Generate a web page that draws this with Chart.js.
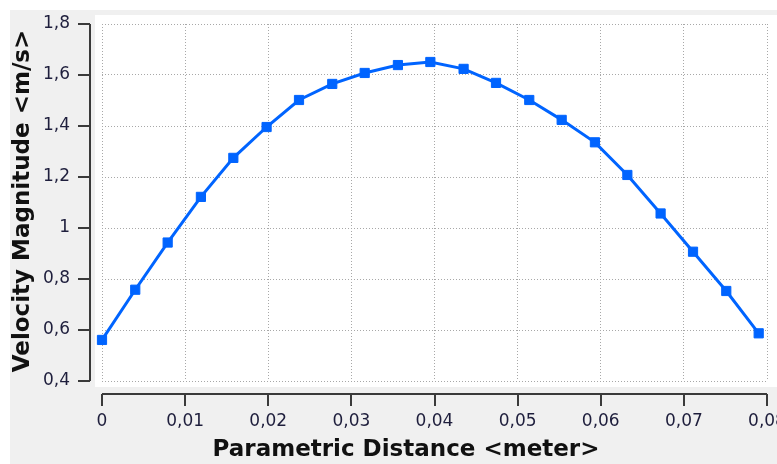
<!DOCTYPE html>
<html>
<head>
<meta charset="utf-8">
<script src="https://cdn.jsdelivr.net/npm/chart.js@4"></script>
<style>
  html, body { margin: 0; padding: 0; background: #fff; }
  canvas { display: block; }
</style>
</head>
<body>
<canvas id="velChart" width="777" height="464"></canvas>
<script>
// values
const distance = [0, 0.004, 0.0079, 0.0119, 0.0158, 0.0198, 0.0237, 0.0277, 0.0316, 0.0356, 0.0395,
                  0.0435, 0.0474, 0.0514, 0.0553, 0.0593, 0.0632, 0.0672, 0.0711, 0.0751, 0.079];
const velocity = [0.561, 0.758, 0.943, 1.122, 1.275, 1.396, 1.502, 1.565, 1.608, 1.639, 1.651,
                  1.624, 1.569, 1.502, 1.424, 1.336, 1.208, 1.057, 0.907, 0.753, 0.587];

const xTicks = [0, 0.01, 0.02, 0.03, 0.04, 0.05, 0.06, 0.07, 0.08];
const xTickLabels = ['0', '0,01', '0,02', '0,03', '0,04', '0,05', '0,06', '0,07', '0,08'];
const yTicks = [0.4, 0.6, 0.8, 1, 1.2, 1.4, 1.6, 1.8];
const yTickLabels = ['0,4', '0,6', '0,8', '1', '1,2', '1,4', '1,6', '1,8'];

const xTitle = 'Parametric Distance <meter>';
const yTitle = 'Velocity Magnitude <m/s>';

const lineColor = 'rgb(0, 100, 255)';
const axisColor = '#3a3a3a';
const labelColor = '#1e1e3c';

// backgrounds + hand drawn axes (axis lines sit apart from the plot box)
const frame = {
    id: 'frame',
    beforeDraw(chart) {
        const ctx = chart.ctx;
        const a = chart.chartArea;
        ctx.save();
        ctx.fillStyle = '#ffffff';
        ctx.fillRect(0, 0, chart.width, chart.height);
        ctx.fillStyle = '#f0f0f0';
        ctx.fillRect(10, 10, chart.width - 10, chart.height - 10);
        ctx.fillStyle = '#ffffff';
        ctx.fillRect(a.left - 7, a.top - 9, chart.width - (a.left - 7), (a.bottom + 6) - (a.top - 9));
        ctx.restore();
    },
    afterDraw(chart) {
        const ctx = chart.ctx;
        const a = chart.chartArea;
        const xs = chart.scales.x;
        const ys = chart.scales.y;
        const axX = a.left - 12;
        const axY = a.bottom + 13;

        ctx.save();
        ctx.strokeStyle = axisColor;
        ctx.lineWidth = 2;
        ctx.beginPath();
        ctx.moveTo(axX, ys.getPixelForValue(yTicks[0]));
        ctx.lineTo(axX, ys.getPixelForValue(yTicks[yTicks.length - 1]));
        yTicks.forEach(v => {
            const py = Math.round(ys.getPixelForValue(v));
            ctx.moveTo(axX - 12, py);
            ctx.lineTo(axX, py);
        });
        ctx.moveTo(xs.getPixelForValue(xTicks[0]), axY);
        ctx.lineTo(xs.getPixelForValue(xTicks[xTicks.length - 1]), axY);
        xTicks.forEach(v => {
            const px = Math.round(xs.getPixelForValue(v));
            ctx.moveTo(px, axY);
            ctx.lineTo(px, axY + 12);
        });
        ctx.stroke();

        ctx.fillStyle = labelColor;
        ctx.font = '17px "DejaVu Sans"';
        ctx.textAlign = 'right';
        ctx.textBaseline = 'middle';
        yTicks.forEach((v, i) => {
            ctx.fillText(yTickLabels[i], axX - 20, ys.getPixelForValue(v));
        });
        ctx.textAlign = 'center';
        xTicks.forEach((v, i) => {
            ctx.fillText(xTickLabels[i], xs.getPixelForValue(v), axY + 28);
        });

        ctx.fillStyle = '#111';
        ctx.font = 'bold 23px "DejaVu Sans"';
        ctx.fillText(xTitle, 406, 450);
        ctx.translate(23, 201);
        ctx.rotate(-Math.PI / 2);
        ctx.fillText(yTitle, 0, 0);
        ctx.restore();
    }
};

new Chart(document.getElementById('velChart'), {
    type: 'line',
    data: {
        datasets: [{
            data: distance.map((d, i) => ({ x: d, y: velocity[i] })),
            borderColor: lineColor,
            backgroundColor: lineColor,
            borderWidth: 3,
            pointStyle: 'rect',
            pointRadius: 6.5,
            pointBorderWidth: 1,
            pointBorderColor: lineColor,
            pointBackgroundColor: lineColor,
            tension: 0,
            clip: false
        }]
    },
    options: {
        responsive: false,
        animation: false,
        devicePixelRatio: 1,
        layout: { padding: { left: 102, top: 24, right: 10, bottom: 83 } },
        plugins: { legend: { display: false }, tooltip: { enabled: false } },
        scales: {
            x: {
                type: 'linear',
                min: 0,
                max: 0.08,
                ticks: { display: false, stepSize: 0.01 },
                border: { display: false, dash: [1, 2] },
                grid: { color: '#a8a8a8', lineWidth: 1, drawTicks: false }
            },
            y: {
                min: 0.4,
                max: 1.8,
                ticks: { display: false, stepSize: 0.2 },
                border: { display: false, dash: [1, 2] },
                grid: { color: '#a8a8a8', lineWidth: 1, drawTicks: false }
            }
        }
    },
    plugins: [frame]
});
</script>
</body>
</html>
